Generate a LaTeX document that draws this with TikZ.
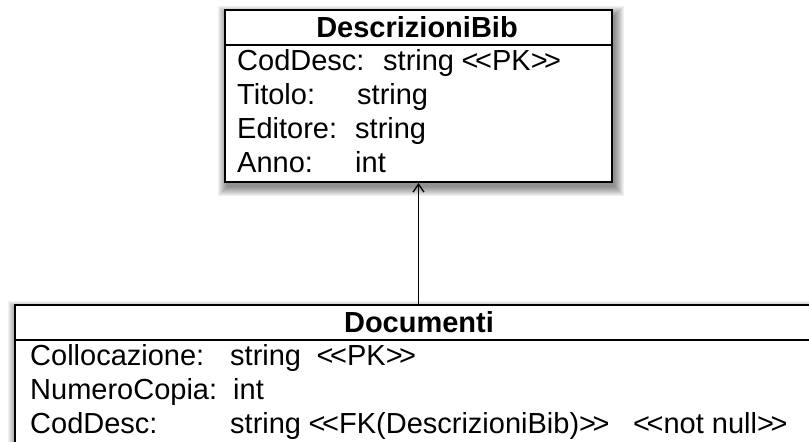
\documentclass[tikz,border=0pt]{standalone}
\usepackage{fontspec}
\setmainfont{Liberation Sans}[Ligatures=TeXOff]
\usetikzlibrary{arrows.meta}
\newcommand{\dlt}{<\kern-3.5pt<}
\newcommand{\dgt}{>\kern-3.5pt>}
\begin{document}
\begin{tikzpicture}[x=1pt,y=-1pt,
  txt/.style={anchor=base west,inner sep=0pt,font=\fontsize{29}{33}\selectfont},
  hdr/.style={anchor=base,inner sep=0pt,font=\fontsize{29}{33}\selectfont\bfseries},
  umlbox/.style={draw,line width=2pt,fill=white,inner sep=0pt},
  sep/.style={line width=1.8pt}]
\useasboundingbox (0,0) rectangle (809,442);
\clip (0,0) rectangle (809,442);
% blurred shadows
\foreach \r in {9,8,...,0}{
  \fill[black,opacity=0.055] (225+2-\r,10+5-\r) rectangle (612+3+\r,182+5+\r);
  \fill[black,opacity=0.055] (15+2-\r,305+5-\r) rectangle (840,470);
}
% boxes
\node[umlbox,minimum width=387pt,minimum height=172pt] (desc) at (418.5,96) {};
\node[umlbox,minimum width=815pt,minimum height=160pt] (docs) at (422.5,385) {};
\draw[sep] (desc.west |- 0,45) -- (desc.east |- 0,45);
\draw[sep] (docs.west |- 0,340) -- (docs.east |- 0,340);
% top box text
\node[hdr] (h1) at (417,37) {DescrizioniBib};
\node[txt] (a1) at (237,70) {CodDesc:};
\node[txt] (a1t) at (383,70) {string};
\node[txt] (a1k) at (461.5,70) {\dlt PK\dgt};
\node[txt] (a2) at (237,104) {Titolo:};
\node[txt] (a2t) at (357,104) {string};
\node[txt] (a3) at (237,138) {Editore:};
\node[txt] (a3t) at (355,138) {string};
\node[txt] (a4) at (237,172) {Anno:};
\node[txt] (a4t) at (355,172) {int};
% bottom box text
\node[hdr] (h2) at (419,332) {Documenti};
\node[txt] (b1) at (30,365) {Collocazione:};
\node[txt] (b1t) at (230,365) {string};
\node[txt] (b1k) at (316.5,365) {\dlt PK\dgt};
\node[txt] (b2) at (30,399) {NumeroCopia:};
\node[txt] (b2t) at (233,399) {int};
\node[txt] (b3) at (30,433) {CodDesc:};
\node[txt] (b3t) at (230,433) {string};
\node[txt] (b3k) at (308.5,433) {\dlt FK(DescrizioniBib)\dgt};
\node[txt] (b3n) at (633,433) {\dlt not null\dgt};
% association
\draw[line width=1.3pt,-{Straight Barb[length=8pt,width=11pt]}] (docs.north -| desc.south) -- (desc.south);
\end{tikzpicture}
\end{document}
